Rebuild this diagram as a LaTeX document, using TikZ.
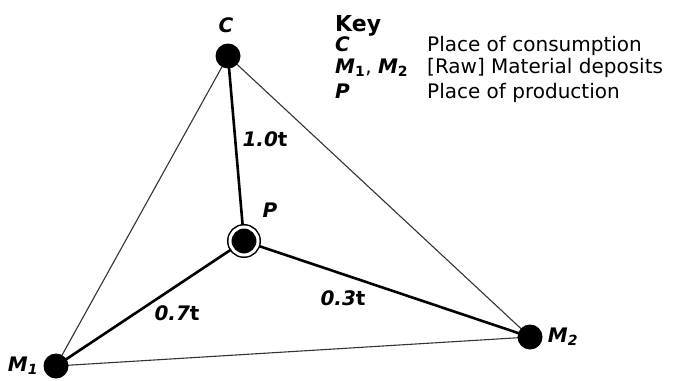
\documentclass[tikz,border=0pt]{standalone}
\usepackage{fontspec}
\setmainfont{DejaVu Sans}
\usetikzlibrary{positioning,backgrounds}

\newcommand{\sym}[1]{\textbf{\textit{#1}}}
\newcommand{\msub}[1]{\sym{M}\textsubscript{\textbf{#1}}}

\begin{document}
\begin{tikzpicture}[x=1pt, y=-1pt,
    site/.style={circle, fill=black, inner sep=0pt, minimum size=25pt},
    prodsite/.style={circle, fill=black, draw=black, line width=1.5pt,
                     double=white, double distance=3pt, inner sep=0pt, minimum size=28pt},
    road/.style={line width=1.1pt, black!80},
    flow/.style={line width=2.6pt, black},
    lbl/.style={font=\fontsize{20}{22}\selectfont\bfseries\itshape, inner sep=0pt},
    keytxt/.style={font=\fontsize{20}{22}\selectfont, anchor=base west, inner sep=0pt}]
  \useasboundingbox (0,0) rectangle (677,380);
  \node[site] (C) at (228,56) {};
  \node[prodsite] (P) at (244,241) {};
  \node[site] (M1) at (56,366) {};
  \node[site] (M2) at (530,337) {};
  \begin{scope}[on background layer]
    \draw[road] (C.center) -- (M1.center);
    \draw[road] (C.center) -- (M2.center);
    \draw[road] (M1.center) -- (M2.center);
    \draw[flow] (C.center) -- (P.center);
    \draw[flow] (P.center) -- (M1.center);
    \draw[flow] (P.center) -- (M2.center);
  \end{scope}
  % site labels
  \node[lbl] (Clbl) at (226,25) {C};
  \node[lbl] (Plbl) at (270,210) {P};
  \node[lbl, left=5pt of M1] (M1lbl) {\msub{1}};
  \node[lbl, right=5pt of M2] (M2lbl) {\msub{2}};
  % weights
  \node[lbl] (wC) at (265,139) {1.0\textup{t}};
  \node[lbl] (wM1) at (177,313) {0.7\textup{t}};
  \node[lbl] (wM2) at (343,298) {0.3\textup{t}};
  % key
  \node[keytxt, font=\fontsize{22}{24}\selectfont\bfseries] (key) at (335,31) {Key};
  \node[keytxt] (kC) at (335,51) {\sym{C}};
  \node[keytxt] (kM) at (335,73) {\msub{1}, \msub{2}};
  \node[keytxt] (kP) at (335,98) {\sym{P}};
  \node[keytxt] (kCtxt) at (427,51) {Place of consumption};
  \node[keytxt] (kMtxt) at (427,73) {[Raw] Material deposits};
  \node[keytxt] (kPtxt) at (427,98) {Place of production};
\end{tikzpicture}
\end{document}
